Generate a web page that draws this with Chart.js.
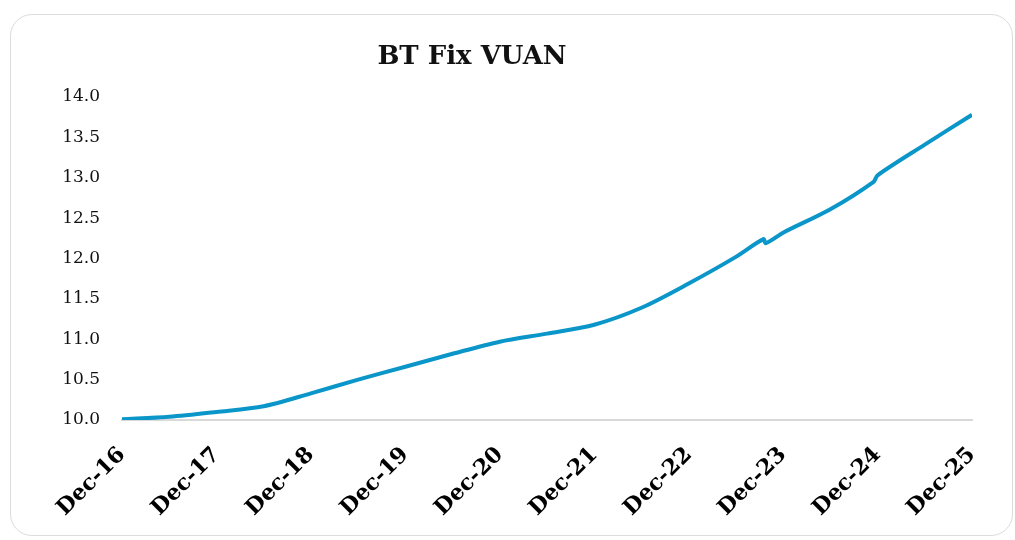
<!DOCTYPE html>
<html lang="en">
<head>
    <meta charset="UTF-8">
    <title>BT Fix VUAN</title>
    <style>
        body{ margin: 0; padding: 0; background: #fff; width: 1015px; height: 540px; overflow: hidden; position: relative; }
        .card{ position: absolute; left: 10px; top: 14px; width: 1003px; height: 522px; border: 1.5px solid #dcdcdc; border-radius: 22px; box-sizing: border-box; }
        .wrap{ position: absolute; left: 0; top: 0; width: 1015px; height: 540px; }
    </style>
    <script src="https://cdn.jsdelivr.net/npm/chart.js"></script>
</head>
<body>
    <div class="card"></div>
    <div class="wrap"><canvas id="myChart"></canvas></div>
    <script>
        // chart data (months counted from Dec-16)
        const chartTitle = 'BT Fix VUAN';
        const months = [0, 6, 12, 18, 24, 30, 36, 42, 48, 54, 60, 66, 72, 78, 81.5, 81.8, 84, 90, 95.5, 96, 102, 108];
        const values = [10.01, 10.04, 10.10, 10.17, 10.33, 10.50, 10.66, 10.82, 10.97, 11.07, 11.18, 11.39, 11.69, 12.02, 12.24, 12.19, 12.32, 12.61, 12.95, 13.03, 13.41, 13.78];
        const tickLabels = ['Dec-16', 'Dec-17', 'Dec-18', 'Dec-19', 'Dec-20', 'Dec-21', 'Dec-22', 'Dec-23', 'Dec-24', 'Dec-25'];

        const points = months.map((m, i) => ({ x: m, y: values[i] }));

        // title sits left of centre in the original, so draw it ourselves
        const titlePlugin = {
            id: 'sideTitle',
            afterDraw(chart){
                const ctx = chart.ctx;
                ctx.save();
                ctx.font = 'bold 26px "DejaVu Serif", serif';
                ctx.fillStyle = '#111';
                ctx.textAlign = 'center';
                ctx.textBaseline = 'middle';
                ctx.fillText(chartTitle, 472, 57);
                ctx.restore();
            }
        };

        const data = {
            datasets: [{
                label: chartTitle,
                data: points,
                borderColor: '#0a96c9',
                backgroundColor: '#0a96c9',
                borderWidth: 4,
                pointRadius: 0,
                tension: 0.3,
                fill: false
            }]
        };

        const config = {
            type: 'line',
            data: data,
            plugins: [titlePlugin],
            options: {
                responsive: false,
                animation: false,
                layout: { padding: { top: 97, right: 43, left: 0, bottom: 0 } },
                plugins: {
                    legend: { display: false },
                    title: { display: false },
                    tooltip: { enabled: false }
                },
                scales: {
                    x: {
                        type: 'linear',
                        min: 0,
                        max: 108,
                        afterFit(scale){ scale.height = 120; },
                        afterBuildTicks(scale){
                            scale.ticks = tickLabels.map((t, i) => ({ value: i * 12 }));
                        },
                        grid: { display: false, drawTicks: false },
                        border: { display: true, color: '#d9d9d9', width: 2 },
                        ticks: {
                            minRotation: 45,
                            maxRotation: 45,
                            autoSkip: false,
                            padding: 22,
                            color: '#000',
                            font: { family: '"DejaVu Serif", serif', size: 22, weight: 'bold' },
                            callback: (v) => tickLabels[Math.round(v / 12)]
                        }
                    },
                    y: {
                        min: 10,
                        max: 14,
                        afterFit(scale){ scale.width = 122; },
                        grid: { display: false, drawTicks: false },
                        border: { display: false },
                        ticks: {
                            stepSize: 0.5,
                            padding: 22,
                            color: '#111',
                            font: { family: '"DejaVu Serif", serif', size: 17 },
                            callback: (v) => v.toFixed(1)
                        }
                    }
                }
            }
        };

        const cv = document.getElementById('myChart');
        cv.width = 1015;
        cv.height = 540;
        new Chart(cv, config);
    </script>
</body>
</html>
